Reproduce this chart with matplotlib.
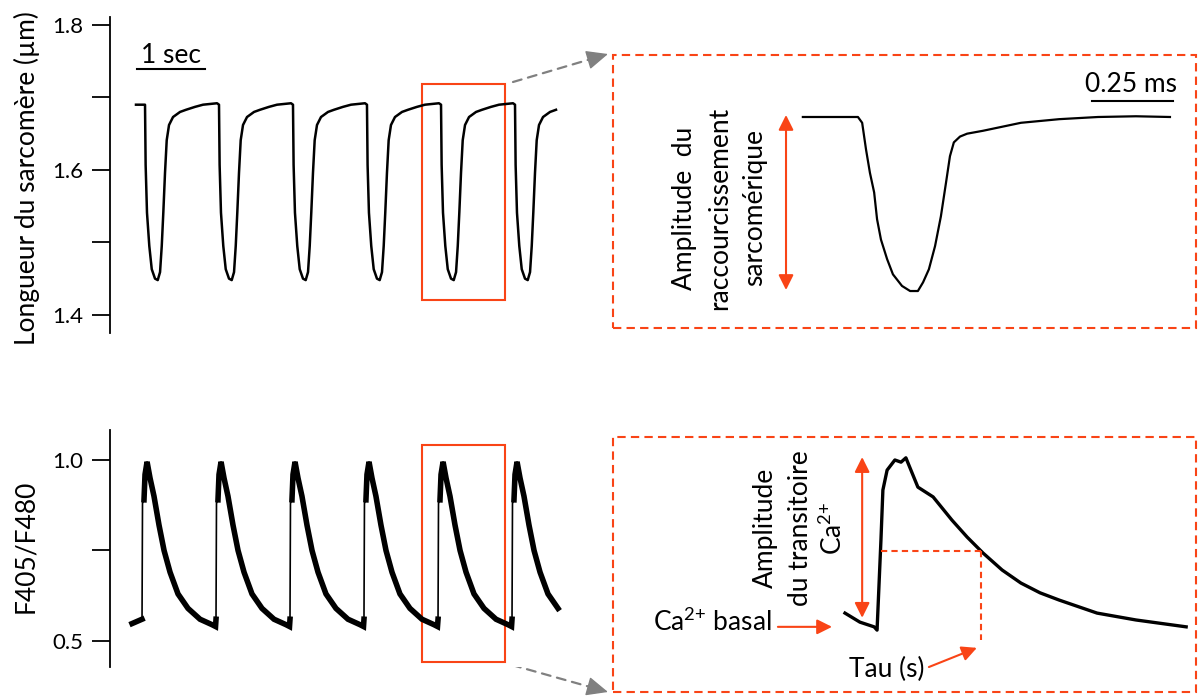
import matplotlib
matplotlib.use('Agg')
import matplotlib.pyplot as plt
import numpy as np
from matplotlib.patches import Rectangle

plt.rcParams['font.family'] = ['Lato', 'DejaVu Sans']
plt.rcParams['mathtext.fontset'] = 'custom'
plt.rcParams['mathtext.rm'] = 'Lato'

W, H = 1198, 697
RED = '#F94416'
GREY = '#808080'

# sarcomere length train (time in s, length in um)
SL_START = (0.382, 1.690)
SL_ONSETS = [0.515, 1.603, 2.691, 3.779, 4.868, 5.956]
SL_END = 6.59
SL_BEAT_T = [0, 0.009, 0.029, 0.063, 0.099, 0.147, 0.187, 0.221, 0.246, 0.269,
             0.294, 0.319, 0.353, 0.412, 0.515, 0.603, 0.735, 0.853, 1.059]
SL_BEAT_V = [1.690, 1.607, 1.541, 1.495, 1.463, 1.450, 1.448, 1.459, 1.495, 1.541,
             1.596, 1.641, 1.662, 1.673, 1.680, 1.683, 1.687, 1.690, 1.692]

# fura ratio train (F405/F480)
CA_START = (0.324, 0.548)
CA_ONSETS = [0.471, 1.559, 2.647, 3.735, 4.824, 5.912]
CA_END = 6.59
CA_BEAT_T = [0, 0.007, 0.029, 0.044, 0.074, 0.118, 0.176, 0.250, 0.324, 0.412,
             0.529, 0.676, 0.853, 1.029, 1.081]
CA_BEAT_V = [0.560, 0.880, 0.890, 0.960, 0.995, 0.950, 0.900, 0.820, 0.750, 0.690,
             0.630, 0.590, 0.560, 0.545, 0.540]

# window shown enlarged on the right
ZOOM_T = (4.588, 5.809)
ZOOM_SL = (1.4207, 1.7186)
ZOOM_CA = (0.442, 1.041)

# enlarged sarcomere beat
SLZ_T = [0.586, 0.756, 0.769, 0.781, 0.793, 0.806, 0.815, 0.827, 0.846, 0.864,
         0.892, 0.917, 0.941, 0.957, 0.975, 0.994, 1.012, 1.028, 1.040, 1.052,
         1.071, 1.093, 1.142, 1.259, 1.377, 1.497, 1.614, 1.719]
SLZ_V = [1.690, 1.690, 1.682, 1.645, 1.613, 1.586, 1.549, 1.521, 1.494, 1.473,
         1.457, 1.450, 1.450, 1.462, 1.480, 1.512, 1.553, 1.600, 1.636, 1.655,
         1.663, 1.667, 1.671, 1.682, 1.687, 1.690, 1.691, 1.690]

# enlarged calcium transient
CAZ_T = [0.716, 0.762, 0.806, 0.815, 0.827, 0.833, 0.846, 0.870, 0.889, 0.904,
         0.941, 0.988, 1.046, 1.093, 1.142, 1.201, 1.259, 1.318, 1.377, 1.494, 1.614, 1.769]
CAZ_V = [0.577, 0.552, 0.539, 0.530, 0.779, 0.917, 0.972, 1.000, 0.994, 1.006,
         0.925, 0.898, 0.834, 0.787, 0.743, 0.696, 0.660, 0.633, 0.613, 0.577, 0.558, 0.539]

CA2 = r'Ca$^{\mathregular{2{+}}}$'


def build_train(start, onsets, beat_t, beat_v, t_end):
    ts, vs, idx = [start[0]], [start[1]], [0]
    for t0 in onsets:
        for i, (dt, v) in enumerate(zip(beat_t, beat_v)):
            if t0 + dt <= t_end:
                ts.append(t0 + dt)
                vs.append(v)
                idx.append(i)
    return np.array(ts), np.array(vs), np.array(idx)


def px_axes(fig, x0, y0, x1, y1):
    return fig.add_axes([x0 / W, 1 - y1 / H, (x1 - x0) / W, (y1 - y0) / H])


def fpos(x, y):
    return (x / W, 1 - y / H)


def style_left(ax):
    for s in ['top', 'right', 'bottom']:
        ax.spines[s].set_visible(False)
    ax.spines['left'].set_linewidth(1.3)
    ax.tick_params(axis='y', direction='out', length=13, width=1.3, pad=6, labelsize=16)
    ax.set_xticks([])


def grey_arrow(ax, start, tip):
    sx, sy = start
    tx, ty = tip
    d = np.hypot(tx - sx, ty - sy)
    bx, by = tx - 16 * (tx - sx) / d, ty - 16 * (ty - sy) / d
    ax.annotate('', xy=fpos(bx, by), xytext=fpos(sx, sy), xycoords='figure fraction',
                textcoords='figure fraction', annotation_clip=False,
                arrowprops=dict(arrowstyle='-', ls=(0, (4, 3)), color=GREY, lw=1.6,
                                shrinkA=0, shrinkB=0))
    ax.annotate('', xy=fpos(tx, ty), xytext=fpos(bx, by), xycoords='figure fraction',
                textcoords='figure fraction', annotation_clip=False,
                arrowprops=dict(arrowstyle='-|>,head_length=0.9,head_width=0.4',
                                color=GREY, lw=1, mutation_scale=15, shrinkA=0, shrinkB=0))


def red_arrow(ax, start, tip, style='-|>,head_length=0.6,head_width=0.3'):
    ax.annotate('', xy=tip, xytext=start, annotation_clip=False,
                arrowprops=dict(arrowstyle=style, color=RED, lw=1.5,
                                mutation_scale=15, shrinkA=0, shrinkB=0))


fig = plt.figure(figsize=(W / 100, H / 100), dpi=100)

# ---- top left: sarcomere length
ax_sl = px_axes(fig, 110, 17, 600, 333)
t, v, _ = build_train(SL_START, SL_ONSETS, SL_BEAT_T, SL_BEAT_V, SL_END)
ax_sl.plot(t, v, color='black', lw=1.8)
ax_sl.set_xlim(0, 490 / 68)
ax_sl.set_ylim(1.375, 1.811)
ax_sl.set_yticks([1.4, 1.5, 1.6, 1.7, 1.8], ['1.4', '', '1.6', '', '1.8'])
style_left(ax_sl)
ax_sl.set_ylabel('Longueur du sarcomère (µm)', fontsize=19, va='center')
ax_sl.yaxis.set_label_coords(-0.169, 0.49)
ax_sl.plot([0.397, 1.397], [1.7393, 1.7393], color='black', lw=1.5)
ax_sl.text(0.897, 1.7476, '1 sec', ha='center', va='baseline', fontsize=19)
ax_sl.add_patch(Rectangle((ZOOM_T[0], ZOOM_SL[0]), ZOOM_T[1] - ZOOM_T[0],
                          ZOOM_SL[1] - ZOOM_SL[0], fill=False, ec=RED, lw=1.5))

# ---- bottom left: calcium ratio
ax_ca = px_axes(fig, 110, 430, 600, 667)
t, v, idx = build_train(CA_START, CA_ONSETS, CA_BEAT_T, CA_BEAT_V, CA_END)
ax_ca.plot(t, v, color='black', lw=1.2)
v_noisy = np.where(idx == 1, np.nan, v)
ax_ca.plot(t, v_noisy, color='black', lw=4, solid_joinstyle='miter')
ax_ca.set_xlim(0, 490 / 68)
ax_ca.set_ylim(0.428, 1.083)
ax_ca.set_yticks([0.5, 0.75, 1.0], ['0.5', '', '1.0'])
style_left(ax_ca)
ax_ca.set_ylabel('F405/F480', fontsize=19, va='center')
ax_ca.yaxis.set_label_coords(-0.173, 0.51)
ax_ca.add_patch(Rectangle((ZOOM_T[0], ZOOM_CA[0]), ZOOM_T[1] - ZOOM_T[0],
                          ZOOM_CA[1] - ZOOM_CA[0], fill=False, ec=RED, lw=1.5))

# ---- top right: enlarged shortening
ax_slz = px_axes(fig, 613, 55, 1196, 328)
ax_slz.set_axis_off()
ax_slz.set_xlim(0, 583 / 324)
ax_slz.set_ylim(1.399, 1.7755)
ax_slz.plot(SLZ_T, SLZ_V, color='black', lw=1.6)
ax_slz.add_patch(Rectangle((0, 0), 1, 1, transform=ax_slz.transAxes, fill=False,
                           ec=RED, lw=1.5, ls=(0, (4, 2.5)), clip_on=False))
ax_slz.plot([1.478, 1.728], [1.7125, 1.7125], color='black', lw=1.5)
ax_slz.text(1.599, 1.7245, '0.25 ms', ha='center', va='baseline', fontsize=19)
red_arrow(ax_slz, (0.534, 1.6928), (0.534, 1.4514),
          style='<|-|>,head_length=0.6,head_width=0.3')
for x, s in [(684, 'Amplitude  du'), (720, 'raccourcissement'), (755, 'sarcomérique')]:
    fig.text(*fpos(x, 208), s, rotation=90, ha='center', va='center', fontsize=19)

# ---- bottom right: enlarged calcium transient
ax_caz = px_axes(fig, 613, 437, 1196, 692)
ax_caz.set_axis_off()
ax_caz.set_xlim(0, 583 / 324)
ax_caz.set_ylim(0.359, 1.0635)
ax_caz.plot(CAZ_T, CAZ_V, color='black', lw=2.4)
ax_caz.add_patch(Rectangle((0, 0), 1, 1, transform=ax_caz.transAxes, fill=False,
                           ec=RED, lw=1.5, ls=(0, (4, 2.5)), clip_on=False))
red_arrow(ax_caz, (0.769, 1.008), (0.769, 0.564),
          style='<|-|>,head_length=0.6,head_width=0.3')
ax_caz.plot([0.827, 1.136], [0.749, 0.749], color=RED, lw=1.5, ls=(0, (3, 2)))
ax_caz.plot([1.136, 1.136], [0.749, 0.503], color=RED, lw=1.5, ls=(0, (3, 2)))
ax_caz.text(0.491, 0.552, CA2 + ' basal', ha='right', va='center', fontsize=19)
red_arrow(ax_caz, (0.509, 0.539), (0.676, 0.539))
ax_caz.text(0.846, 0.420, 'Tau (s)', ha='center', va='center', fontsize=19)
red_arrow(ax_caz, (0.975, 0.428), (1.123, 0.481))
for x, s in [(765, 'Amplitude'), (801, 'du transitoire'), (833, CA2)]:
    fig.text(*fpos(x, 528), s, rotation=90, ha='center', va='center', fontsize=19)

# ---- grey dashed zoom arrows
grey_arrow(ax_sl, (513, 82), (608, 54))
grey_arrow(ax_sl, (512, 665), (608, 692))

fig.savefig('out.png', dpi=100)
